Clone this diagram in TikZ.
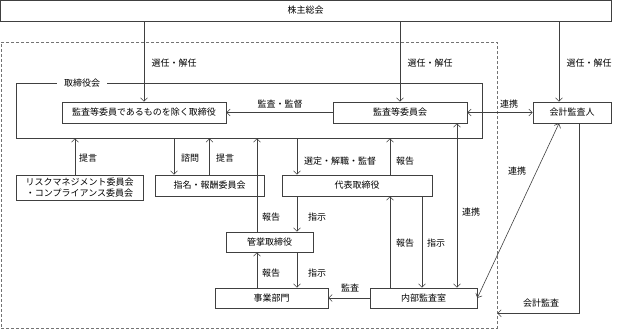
\documentclass[tikz,border=0pt]{standalone}
\usepackage{fontspec}
\setmainfont{Noto Sans CJK JP}
\usetikzlibrary{arrows.meta}

\begin{document}
\begin{tikzpicture}[x=1pt, y=-1pt, font=\fontsize{9}{11}\selectfont,
    >={Straight Barb[length=3.5pt, width=7pt]},
    box/.style={draw=black!75, line width=0.6pt, inner sep=0pt, align=center},
    lbl/.style={inner sep=1pt},
    arr/.style={->, draw=black!75, line width=0.6pt},
    both/.style={<->, draw=black!75, line width=0.6pt}]

    \useasboundingbox (0,0) rectangle (620,329);

    % Frames
    \node[box, minimum width=611, minimum height=21] (sh) at (305.5,10.5) {株主総会};
    \node[draw=black!55, densely dashed, line width=0.6pt, minimum width=496, minimum height=286, inner sep=0pt] (grp) at (249,185) {};
    \node[box, minimum width=466, minimum height=55] (bd) at (249,110.5) {};
    \node[fill=white, inner xsep=7pt, inner ysep=1pt] (bdname) at (82,83) {取締役会};

    % Boxes in the board row
    \node[box, minimum width=164, minimum height=21] (dir) at (144,112.5) {監査等委員であるものを除く取締役};
    \node[box, minimum width=134, minimum height=21] (ac) at (400,112.5) {監査等委員会};
    \node[box, minimum width=78, minimum height=21] (aud) at (572,112.5) {会計監査人};

    % Committees and executives
    \node[box, minimum width=127, minimum height=25] (risk) at (79.5,187.5) {リスクマネジメント委員会\\・コンプライアンス委員会};
    \node[box, minimum width=109, minimum height=21] (nom) at (209.5,185.5) {指名・報酬委員会};
    \node[box, minimum width=150, minimum height=21] (rep) at (357,185.5) {代表取締役};
    \node[box, minimum width=87, minimum height=20] (mgr) at (269.5,242) {管掌取締役};
    \node[box, minimum width=113, minimum height=20] (biz) at (271.5,298) {事業部門};
    \node[box, minimum width=107, minimum height=20] (ia) at (423.5,298) {内部監査室};

    % Connector ends
    \coordinate (audL) at ([xshift=-13pt]aud.north);
    \coordinate (audR) at ([xshift=7pt]aud.south);
    \coordinate (riskT) at ([xshift=-4.5pt]risk.north);
    \coordinate (nomL) at ([xshift=-35.5pt]nom.north);
    \coordinate (mgrL) at ([xshift=-12.5pt]mgr.north);
    \coordinate (mgrR) at ([xshift=27.5pt]mgr.north);
    \coordinate (iaL) at ([xshift=-33.5pt]ia.north);
    \coordinate (iaM) at ([xshift=-1.5pt]ia.north);
    \coordinate (iaR) at ([xshift=33.5pt]ia.north);

    % Shareholders' meeting
    \draw[arr] (sh.south -| dir.north) -- (dir.north);
    \draw[arr] (sh.south -| ac.north) -- (ac.north);
    \draw[arr] (sh.south -| audL) -- (audL);

    % Board row
    \draw[arr] (ac.west) -- (dir.east);
    \draw[both] (ac.east) -- (aud.west);

    % Committees
    \draw[arr] (riskT) -- (riskT |- bd.south);
    \draw[arr] (bd.south -| nomL) -- (nomL);
    \draw[arr] (nom.north) -- (nom.north |- bd.south);

    % Executives
    \draw[arr] (bd.south -| mgrR) -- (rep.north -| mgrR);
    \draw[arr] (rep.north -| iaL) -- (bd.south -| iaL);
    \draw[arr] (mgrL) -- (mgrL |- bd.south);
    \draw[arr] (rep.south -| mgrR) -- (mgrR);
    \draw[arr] (biz.north -| mgrL) -- (mgr.south -| mgrL);
    \draw[arr] (mgr.south -| mgrR) -- (biz.north -| mgrR);

    % Internal audit
    \draw[arr] (iaL) -- (rep.south -| iaL);
    \draw[arr] (rep.south -| iaM) -- (iaM);
    \draw[both] (ac.south -| iaR) -- (iaR);
    \draw[arr] (ia.west) -- (biz.east);
    \draw[both] (ia.east) -- (audL |- aud.south);
    \draw[arr] (audR) |- ([yshift=15pt]grp.south east);

    % --- Labels ---
    \node[lbl] (t1) at (174,63) {選任・解任};
    \node[lbl] (t2) at (430,63) {選任・解任};
    \node[lbl] (t3) at (589,63) {選任・解任};
    \node[lbl] (t4) at (280,104) {監査・監督};
    \node[lbl] (t5) at (509,104) {連携};
    \node[lbl] (t6) at (88,158) {提言};
    \node[lbl] (t7) at (190,158) {諮問};
    \node[lbl] (t8) at (225,158) {提言};
    \node[lbl] (t9) at (340,161) {選定・解職・監督};
    \node[lbl] (t10) at (405,161) {報告};
    \node[lbl] (t11) at (517,171) {連携};
    \node[lbl] (t12) at (471,212) {連携};
    \node[lbl] (t13) at (271,217) {報告};
    \node[lbl] (t14) at (317,217) {指示};
    \node[lbl] (t15) at (405,243) {報告};
    \node[lbl] (t16) at (436,243) {指示};
    \node[lbl] (t17) at (271,273) {報告};
    \node[lbl] (t18) at (317,273) {指示};
    \node[lbl] (t19) at (350,288) {監査};
    \node[lbl] (t20) at (541,303) {会計監査};

\end{tikzpicture}
\end{document}
